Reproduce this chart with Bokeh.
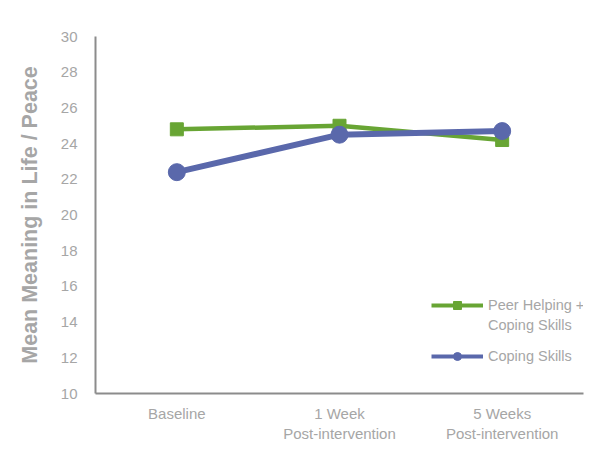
from bokeh.plotting import figure
from bokeh.models import Legend, LegendItem, FixedTicker
from bokeh.embed import file_html
from bokeh.resources import INLINE

categories = ["Baseline", "1 Week\nPost-intervention", "5 Weeks\nPost-intervention"]
peer_helping = [24.8, 25.0, 24.2]
coping_skills = [22.4, 24.5, 24.7]
y_ticks = [10, 12, 14, 16, 18, 20, 22, 24, 26, 28, 30]

GREEN = "#68a534"
BLUE = "#5a68ab"
GRAY = "#a6a6a6"
FONT = "Liberation Sans"

p = figure(x_range=categories, y_range=(10, 30),
           frame_width=488, frame_height=357,
           output_backend="svg", toolbar_location=None,
           min_border_left=95, min_border_right=13, min_border_top=36, min_border_bottom=60)
p.x_range.range_padding = 0
p.outline_line_color = None
p.grid.visible = False

p.line(categories, peer_helping, color=GREEN, line_width=4.5)
p.scatter(categories, peer_helping, marker="square", size=13, color=GREEN)
p.line(categories, coping_skills, color=BLUE, line_width=6)
p.scatter(categories, coping_skills, marker="circle", size=17, color=BLUE)

# legend proxies (NaN data, nothing drawn in the plot) so legend glyphs are thin like the reference
nan_y = [float("nan")]
proxy_x = categories[:1]
gl = p.line(proxy_x, nan_y, color=GREEN, line_width=4)
gs = p.scatter(proxy_x, nan_y, marker="square", size=8, color=GREEN)
blank = p.line(proxy_x, nan_y, line_alpha=0)
bl = p.line(proxy_x, nan_y, color=BLUE, line_width=4)
bs = p.scatter(proxy_x, nan_y, marker="circle", size=9, color=BLUE)

p.yaxis.ticker = FixedTicker(ticks=y_ticks)
for ax in (p.xaxis[0], p.yaxis[0]):
    ax.axis_line_color = "#8c8c8c"
    ax.axis_line_width = 2
    ax.major_tick_line_color = None
    ax.minor_tick_line_color = None
    ax.major_label_text_color = GRAY
    ax.major_label_text_font = FONT
    ax.major_label_text_font_size = "15px"
p.yaxis.major_label_standoff = 12
p.xaxis.major_label_standoff = 5

p.yaxis.axis_label = "Mean Meaning in Life / Peace"
p.yaxis.axis_label_text_font = FONT
p.yaxis.axis_label_text_font_size = "21.5px"
p.yaxis.axis_label_text_font_style = "bold"
p.yaxis.axis_label_text_color = GRAY
p.yaxis.axis_label_standoff = 16


def style(lg):
    lg.label_text_font = FONT
    lg.label_text_font_size = "14.5px"
    lg.label_text_color = GRAY
    lg.border_line_color = None
    lg.background_fill_alpha = 0
    lg.glyph_width = 52
    lg.spacing = 0
    lg.label_height = 20
    lg.glyph_height = 20
    return lg


legend_a = style(Legend(items=[
    LegendItem(label="Peer Helping +", renderers=[gl, gs]),
    LegendItem(label="Coping Skills", renderers=[blank]),
], location=(336, 58)))
legend_b = style(Legend(items=[
    LegendItem(label="Coping Skills", renderers=[bl, bs]),
], location=(336, 27)))
p.add_layout(legend_a, "center")
p.add_layout(legend_b, "center")

open("out.html", "w").write(file_html(p, INLINE))
